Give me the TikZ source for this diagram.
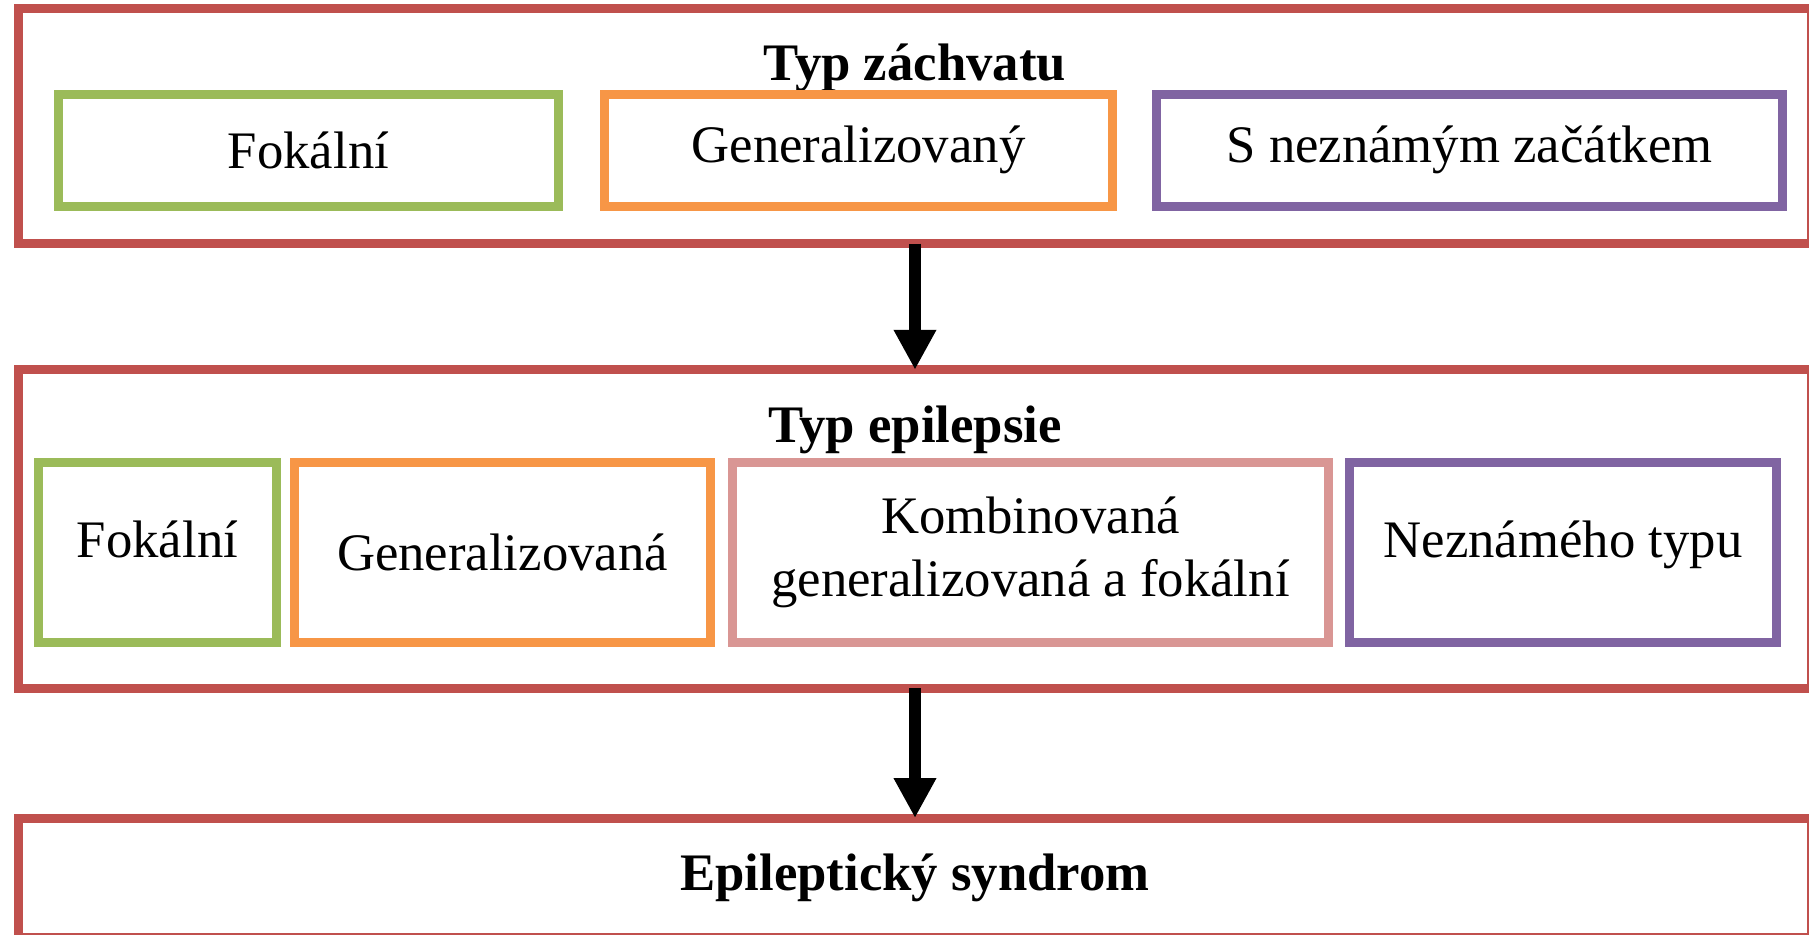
\documentclass[tikz,border=0pt]{standalone}
\usepackage{fontspec}
\setmainfont{Liberation Serif}
\usetikzlibrary{arrows.meta}
\definecolor{boxred}{HTML}{C0504D}
\definecolor{boxgreen}{HTML}{9BBB59}
\definecolor{boxorange}{HTML}{F79646}
\definecolor{boxpurple}{HTML}{8064A2}
\definecolor{boxpink}{HTML}{D99694}
\tikzset{outerbox/.style = {draw=boxred, line width=0.09cm, rectangle, outer sep=0pt, inner sep=0pt},
         innerbox/.style = {draw=#1, line width=0.09cm, rectangle, outer sep=0pt, inner sep=0pt, align=center},
         raised/.style = {text height=0.4cm, text depth=0.3cm},
         arrdown/.style = {line width=0.12cm, -{Triangle[width=0.4cm,length=0.4cm]}}}

\begin{document}
\begin{tikzpicture}[font=\fontsize{15}{17.9}\selectfont]
    \useasboundingbox (0,0) rectangle (18.09,9.34);
    \clip (0,0) rectangle (18.09,9.34);
    % outer frames
    \node[outerbox, minimum width=17.93cm, minimum height=2.35cm] (zach) at (9.15,8.08) {};
    \node[outerbox, minimum width=17.93cm, minimum height=3.185cm] (epi) at (9.15,4.05) {};
    \node[outerbox, minimum width=17.93cm, minimum height=1.19cm, font=\fontsize{15}{17.9}\selectfont\bfseries] (synd) at (9.15,0.565) {Epileptický syndrom};
    % titles
    \node[anchor=base, font=\fontsize{15}{17.9}\selectfont\bfseries] (zachtitle) at (9.15,8.54) {Typ záchvatu};
    \node[anchor=base, font=\fontsize{15}{17.9}\selectfont\bfseries] (epititle) at (9.15,4.92) {Typ epilepsie};
    % seizure types
    \node[innerbox=boxgreen, minimum width=5.00cm, minimum height=1.12cm] (fok1) at (3.085,7.84) {Fokální};
    \node[innerbox=boxorange, minimum width=5.08cm, minimum height=1.12cm] (gen1) at (8.585,7.84) {Generalizovaný};
    \node[innerbox=boxpurple, minimum width=6.26cm, minimum height=1.12cm] (nez1) at (14.695,7.84) {S neznámým začátkem};
    % epilepsy types
    \node[innerbox=boxgreen, raised, minimum width=2.38cm, minimum height=1.80cm] (fok2) at (1.575,3.815) {Fokální};
    \node[innerbox=boxorange, minimum width=4.16cm, minimum height=1.80cm] (gen2) at (5.025,3.815) {Generalizovaná};
    \node[innerbox=boxpink, minimum width=5.96cm, minimum height=1.80cm] (komb) at (10.305,3.815) {Kombinovaná\\generalizovaná a fokální};
    \node[innerbox=boxpurple, raised, minimum width=4.27cm, minimum height=1.80cm] (nez2) at (15.63,3.815) {Neznámého typu};
    % arrows
    \draw[arrdown] (zach.south) -- (epi.north);
    \draw[arrdown] (epi.south) -- (synd.north);
\end{tikzpicture}
\end{document}
